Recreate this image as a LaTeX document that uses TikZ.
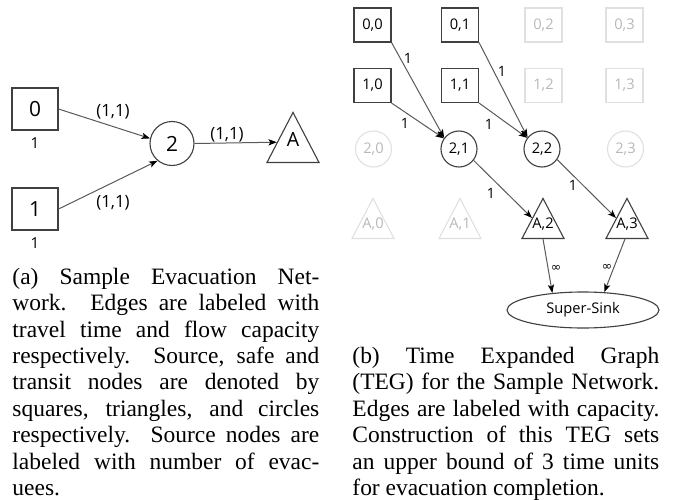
\documentclass[tikz,border=0pt]{standalone}
\usepackage{fontspec}
\setmainfont{Liberation Serif}
\newfontfamily\gf{Open Sans}
\newfontfamily\dv{DejaVu Sans}
\usetikzlibrary{shapes.geometric,arrows.meta,calc}
\newcommand\jl[1]{\makebox[138.1pt][s]{#1}}
\begin{document}
\begin{tikzpicture}[x=0.45pt,y=-0.45pt,
  srcbig/.style={draw=black!75, line width=0.5pt, rectangle, minimum width=20.7pt, minimum height=18.9pt, inner sep=0pt, font=\gf\fontsize{9.4}{10}\selectfont},
  circbig/.style={draw=black!75, line width=0.5pt, circle, minimum size=19.8pt, inner sep=0pt, font=\gf\fontsize{9.4}{10}\selectfont},
  tribig/.style={draw=black!75, line width=0.5pt, isosceles triangle, shape border rotate=90, isosceles triangle stretches, minimum width=23.4pt, minimum height=22.5pt, inner sep=0pt, anchor=lower side},
  biglbl/.style={anchor=base, yshift=7.3pt, inner sep=0pt, font=\gf\fontsize{8.8}{10}\selectfont},
  tsrc/.style={draw=black!75, line width=0.5pt, rectangle, minimum width=16.65pt, minimum height=15.3pt, inner sep=0pt, font=\gf\fontsize{6.6}{8}\selectfont},
  tcirc/.style={draw=black!75, line width=0.5pt, circle, minimum size=16.2pt, inner sep=0pt, font=\gf\fontsize{6.6}{8}\selectfont},
  ttri/.style={draw=black!75, line width=0.5pt, isosceles triangle, shape border rotate=90, isosceles triangle stretches, minimum width=18.9pt, minimum height=18pt, inner sep=0pt, anchor=lower side},
  tlbl/.style={anchor=base, yshift=4.6pt, inner sep=0pt, font=\gf\fontsize{6.6}{8}\selectfont},
  faint/.style={draw=black!12, text=black!28},
  sinkst/.style={draw=black!75, line width=0.5pt, ellipse, minimum width=68.4pt, minimum height=16.2pt, inner sep=0pt, font=\gf\fontsize{6.6}{8}\selectfont},
  conn/.style={draw=black!65, line width=0.45pt, -{Stealth[length=3.8pt,width=2.8pt,inset=0.9pt,color=black]}},
  biglab/.style={font=\gf\fontsize{7.6}{9}\selectfont, inner sep=0pt},
  evlab/.style={font=\gf\fontsize{6.8}{8}\selectfont, inner sep=0pt},
  smlab/.style={font=\gf\fontsize{6.4}{8}\selectfont, inner sep=0pt},
  inflab/.style={font=\dv\fontsize{5.6}{7}\selectfont, inner sep=0pt},
  capl/.style={anchor=base west, inner sep=0pt, font=\fontsize{10.56}{11.88}\selectfont}
]
\useasboundingbox (0,0) rectangle (677,499);

% ---------- (a) sample network
\node[srcbig] (s0) at (35,109) {0};
\node[srcbig] (s1) at (35,209) {1};
\node[circbig] (n2) at (172,143.5) {2};
\node[tribig, label={[biglbl]south:A}] (sa) at (293,163) {};
\node[evlab] (e0) at (35,143) {1};
\node[evlab] (e1) at (35,243) {1};

\draw[conn] (s0.east) -- (n2.167);
\draw[conn] (s1.east) -- (n2.230);
\draw[conn] (n2.east) -- ($(sa.left corner)!0.4!(sa.apex)$);
\node[biglab] (l0) at (113,112) {(1,1)};
\node[biglab] (l1) at (113,203) {(1,1)};
\node[biglab] (l2) at (227,135) {(1,1)};

% ---------- (b) TEG
\node[tsrc] (b00) at (372.5,25) {0,0};
\node[tsrc] (b01) at (460,25) {0,1};
\node[tsrc,faint] (b02) at (543.5,25) {0,2};
\node[tsrc,faint] (b03) at (624.5,25) {0,3};
\node[tsrc] (b10) at (372.5,85.5) {1,0};
\node[tsrc] (b11) at (460,85.5) {1,1};
\node[tsrc,faint] (b12) at (543.5,85.5) {1,2};
\node[tsrc,faint] (b13) at (624.5,85.5) {1,3};
\node[tcirc,faint] (c20) at (373.5,149) {2,0};
\node[tcirc] (c21) at (459,149) {2,1};
\node[tcirc] (c22) at (542,149) {2,2};
\node[tcirc,faint] (c23) at (625.5,149) {2,3};
\node[ttri,faint, label={[tlbl,text=black!28]south:{A,0}}] (a0) at (373,239) {};
\node[ttri,faint, label={[tlbl,text=black!28]south:{A,1}}] (a1) at (460,239) {};
\node[ttri, label={[tlbl]south:{A,2}}] (a2) at (543,239) {};
\node[ttri, label={[tlbl]south:{A,3}}] (a3) at (627,239) {};
\node[sinkst] (sink) at (583,310) {Super-Sink};

\draw[conn] (b00.south east) -- (c21.143);
\draw[conn] (b10.south east) -- (c21.145);
\draw[conn] (b01.south east) -- (c22.141);
\draw[conn] (b11.south east) -- (c22.143);
\draw[conn] (c21.-38) -- (a2.left side);
\draw[conn] (c22.-35) -- (a3.left side);
\draw[conn] (a2.lower side) -- (sink.151);
\draw[conn] ([xshift=-0.9pt]a3.lower side) -- (sink.40);

\node[smlab] (t1) at (408,58) {1};
\node[smlab] (t2) at (405,123) {1};
\node[smlab] (t3) at (502,71) {1};
\node[smlab] (t4) at (489,124) {1};
\node[smlab] (t5) at (491,193) {1};
\node[smlab] (t6) at (573,185) {1};
\node[inflab] (t7) at (556,268) {∞};
\node[inflab] (t8) at (607,267) {∞};

% ---------- captions
\node[capl] (ca1) at (12,284.3) {\jl{(a) Sample Evacuation Net-}};
\node[capl] (ca2) at (12,310.7) {\jl{work. Edges are labeled with}};
\node[capl] (ca3) at (12,337.1) {\jl{travel time and flow capacity}};
\node[capl] (ca4) at (12,363.5) {\jl{respectively. Source, safe and}};
\node[capl] (ca5) at (12,389.9) {\jl{transit nodes are denoted by}};
\node[capl] (ca6) at (12,416.3) {\jl{squares, triangles, and circles}};
\node[capl] (ca7) at (12,442.7) {\jl{respectively. Source nodes are}};
\node[capl] (ca8) at (12,469.1) {\jl{labeled with number of evac-}};
\node[capl] (ca9) at (12,495.5) {uees.};

\node[capl] (cb1) at (352,363.5) {\jl{(b) Time Expanded Graph}};
\node[capl] (cb2) at (352,389.9) {\jl{(TEG) for the Sample Network.}};
\node[capl] (cb3) at (352,416.3) {\jl{Edges are labeled with capacity.}};
\node[capl] (cb4) at (352,442.7) {\jl{Construction of this TEG sets}};
\node[capl] (cb5) at (352,469.1) {\jl{an upper bound of 3 time units}};
\node[capl] (cb6) at (352,495.5) {for evacuation completion.};
\end{tikzpicture}
\end{document}
